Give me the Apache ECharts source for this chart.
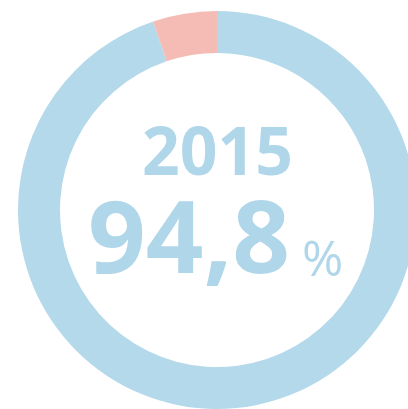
<!DOCTYPE html>
<html>
<head>
<meta charset="utf-8">
<style>
	html, body { margin: 0; padding: 0; background: #fff; }
	#chart { width: 408px; height: 409px; }
</style>
<script src="https://cdn.jsdelivr.net/npm/echarts@6/dist/echarts.min.js"></script>
</head>
<body>
<div id="chart"></div>
<script>
// data
var names = ['ok', 'rest'];
var values = [94.8, 5.2];
var colors = ['#b4d9eb', '#f5bbb5'];
var yearLabel = ['2015'];

var myChart = echarts.init(document.getElementById('chart'));

// 94.8 -> "94,8"
var pctText = values[0].toFixed(1).replace('.', ',');

var option = {
	backgroundColor: '#fff',
	animation: false,
	series: [{
		type: 'pie',
		center: [217, 210],
		radius: [157, 199],
		startAngle: 90,
		clockwise: true,
		silent: true,
		label: { show: false },
		labelLine: { show: false },
		data: names.map(function (n, i) {
			return { name: n, value: values[i], itemStyle: { color: colors[i] } };
		})
	}],
	graphic: [
		{
			type: 'text',
			left: 142, top: 123,
			style: {
				text: yearLabel[0],
				fill: '#b0d6ea',
				font: 'bold 66px "Open Sans"'
			}
		},
		{
			type: 'text',
			left: 88, top: 194,
			style: {
				text: pctText,
				fill: '#b0d6ea',
				font: 'bold 101px "Open Sans"'
			}
		},
		{
			type: 'text',
			left: 302, top: 237,
			style: {
				text: '%',
				fill: '#b0d6ea',
				font: '50px "Open Sans"'
			}
		}
	]
};

myChart.setOption(option);
</script>
</body>
</html>
